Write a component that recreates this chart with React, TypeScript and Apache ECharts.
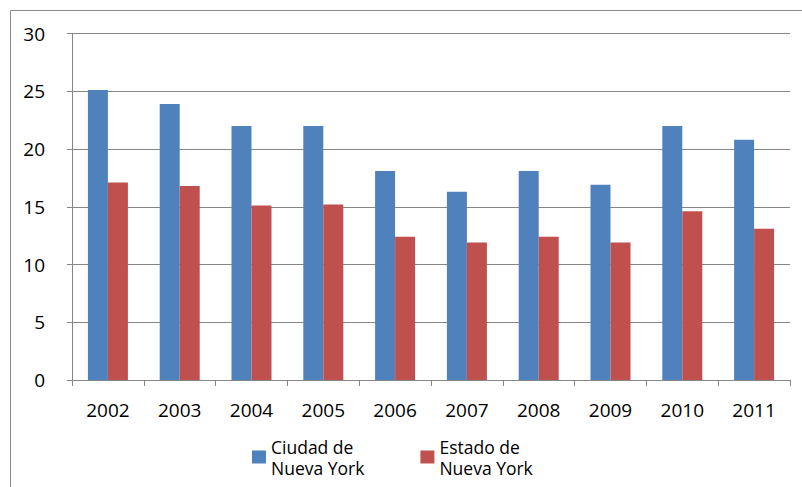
import React, { useEffect, useRef } from "react";
import * as echarts from "echarts";

const years = ["2002", "2003", "2004", "2005", "2006", "2007", "2008", "2009", "2010", "2011"];
const ciudad = [25.1, 23.9, 22.0, 22.0, 18.1, 16.3, 18.1, 16.9, 22.0, 20.8];
const estado = [17.1, 16.8, 15.1, 15.2, 12.4, 11.9, 12.4, 11.9, 14.6, 13.1];
const seriesNames = ["Ciudad de\nNueva York", "Estado de\nNueva York"];
const FONT = "'Open Sans', sans-serif";

export default function App() {
  const ref = useRef<HTMLDivElement>(null);
  useEffect(() => {
    if (!ref.current) return;
    const chart = echarts.init(ref.current, undefined, { renderer: "svg" });
    chart.setOption({
      animation: false,
      backgroundColor: "#ffffff",
      grid: { left: 72, right: 12, top: 33.5, bottom: 107, containLabel: false },
      graphic: [
        {
          type: "rect",
          shape: { x: 10.5, y: 10.5, width: 900, height: 700 },
          style: { fill: "none", stroke: "#8a8a8a", lineWidth: 1 },
          silent: true,
          z: -1,
        },
      ],
      legend: {
        left: 252,
        top: 436,
        padding: 0,
        itemWidth: 14,
        itemHeight: 13,
        itemGap: 56,
        icon: "rect",
        textStyle: { fontFamily: FONT, fontSize: 17.5, color: "#000", lineHeight: 21 },
        data: seriesNames,
      },
      xAxis: {
        type: "category",
        data: years,
        axisLine: { lineStyle: { color: "#868686", width: 1 } },
        axisTick: { show: true, length: 6, alignWithLabel: false, lineStyle: { color: "#868686" } },
        axisLabel: { fontFamily: FONT, fontSize: 19, color: "#000", margin: 20 },
      },
      yAxis: {
        type: "value",
        min: 0,
        max: 30,
        interval: 5,
        axisLine: { show: true, lineStyle: { color: "#868686", width: 1 } },
        axisTick: { show: true, length: 5, lineStyle: { color: "#868686" } },
        splitLine: { lineStyle: { color: "#868686", width: 1 } },
        axisLabel: { fontFamily: FONT, fontSize: 19, color: "#000", margin: 27 },
      },
      series: [
        {
          name: seriesNames[0],
          type: "bar",
          data: ciudad,
          barWidth: 20,
          barGap: "0%",
          itemStyle: { color: "#4F81BD" },
        },
        {
          name: seriesNames[1],
          type: "bar",
          data: estado,
          barWidth: 20,
          barGap: "0%",
          itemStyle: { color: "#C0504D" },
        },
      ],
    });
    return () => chart.dispose();
  }, []);
  return (
    <div
      ref={ref}
      style={{ position: "fixed", left: 0, top: 0, width: 802, height: 487, background: "#fff" }}
    />
  );
}
